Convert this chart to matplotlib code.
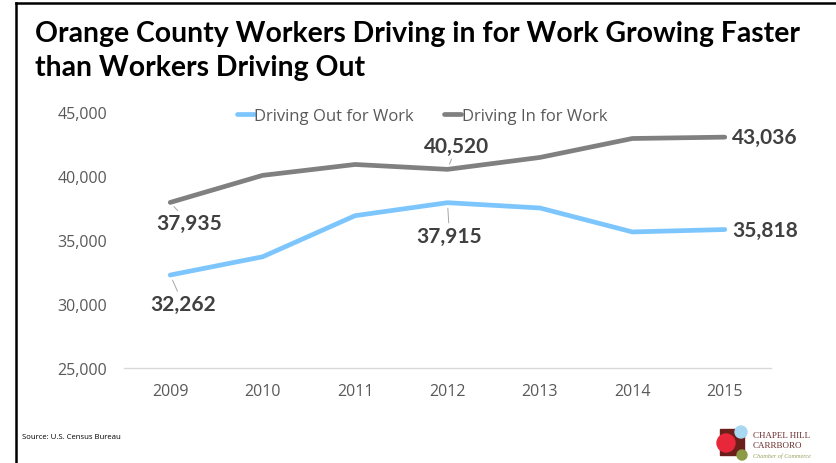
import matplotlib.pyplot as plt
from matplotlib import font_manager
from matplotlib.lines import Line2D
from matplotlib.patches import Rectangle, Circle
import numpy as np

years = ['2009', '2010', '2011', '2012', '2013', '2014', '2015']
driving_out = [32262, 33690, 36900, 37915, 37500, 35630, 35818]
driving_in = [37935, 40050, 40900, 40520, 41450, 42930, 43036]
yticks = [25000, 30000, 35000, 40000, 45000]

blue = '#7DC6FD'
grey = '#808080'
label_col = '#404040'
tick_col = '#595959'


def pick_font(names):
    for n in names:
        try:
            font_manager.findfont(font_manager.FontProperties(family=n), fallback_to_default=False)
            return n
        except ValueError:
            pass
    return 'DejaVu Sans'


title_font = pick_font(['Liberation Sans Narrow', 'Lato'])

W, H = 836, 464
fig = plt.figure(figsize=(W / 100, H / 100), dpi=100)
ax = fig.add_axes([124 / W, 1 - 369 / H, (771 - 124) / W, (369 - 113) / H])

x = np.arange(len(years))
ax.plot(x, driving_out, color=blue, lw=3.4, solid_capstyle='round', label='Driving Out for Work')
ax.plot(x, driving_in, color=grey, lw=3.4, solid_capstyle='round', label='Driving In for Work')

ax.set_xlim(-0.5, len(years) - 0.5)
ax.set_ylim(25000, 45000)
ax.set_xticks(x)
ax.set_xticklabels(years)
ax.set_yticks(yticks)
ax.set_yticklabels([f'{v:,}' for v in yticks])
for s in ['top', 'right', 'left']:
    ax.spines[s].set_visible(False)
ax.spines['bottom'].set_color('#D9D9D9')
ax.spines['bottom'].set_linewidth(1)
ax.tick_params(length=0, labelsize=11.5, labelcolor=tick_col)
ax.tick_params(axis='x', pad=11)
ax.tick_params(axis='y', pad=12)
for t in ax.get_xticklabels() + ax.get_yticklabels():
    t.set_fontfamily('Open Sans')

# data labels
lab = dict(fontsize=15, fontweight='bold', color=label_col, fontfamily='Lato')
lead = dict(arrowstyle='-', color='#A6A6A6', lw=0.7, shrinkA=0, shrinkB=4)
ax.annotate(f'{driving_in[0]:,}', (0, driving_in[0]), xytext=(19, -21), textcoords='offset pixels',
            ha='center', va='center', arrowprops=lead, **lab)
ax.annotate(f'{driving_out[0]:,}', (0, driving_out[0]), xytext=(13, -29), textcoords='offset pixels',
            ha='center', va='center', arrowprops=lead, **lab)
ax.annotate(f'{driving_in[3]:,}', (3, driving_in[3]), xytext=(9, 23), textcoords='offset pixels',
            ha='center', va='center', arrowprops=lead, **lab)
ax.annotate(f'{driving_out[3]:,}', (3, driving_out[3]), xytext=(2, -33), textcoords='offset pixels',
            ha='center', va='center', arrowprops=lead, **lab)
ax.annotate(f'{driving_in[6]:,}', (6, driving_in[6]), xytext=(7, 0), textcoords='offset pixels',
            ha='left', va='center', **lab)
ax.annotate(f'{driving_out[6]:,}', (6, driving_out[6]), xytext=(7, 0), textcoords='offset pixels',
            ha='left', va='center', **lab)

leg = fig.legend(loc='center', bbox_to_anchor=(422 / W, 1 - 117 / H), ncol=2, frameon=False,
                 handlelength=1.0, handletextpad=0.05, columnspacing=1.8,
                 prop={'family': 'Open Sans', 'size': 12})
for t in leg.get_texts():
    t.set_color(tick_col)

title = fig.text(35 / W, 1 - 51 / H,
                 'Orange County Workers Driving in for Work Growing Faster\nthan Workers Driving Out',
                 fontsize=18, fontweight='bold', fontfamily=title_font, color='black',
                 ha='left', va='center', linespacing=1.42)
# fit the title to the width it has in the reference
r = fig.canvas.get_renderer()
tw = title.get_window_extent(r).width
title.set_fontsize(18 * 765 / tw)

fig.text(22 / W, 1 - 438 / H, 'Source: U.S. Census Bureau', fontsize=5.6, fontfamily='Open Sans',
         color='black', ha='left', va='center')

# frame lines
fig.add_artist(Line2D([16 / W, 16 / W], [0, 1 - 4 / H], color='black', lw=1.8))
fig.add_artist(Line2D([16 / W, 1], [1 - 4 / H, 1 - 4 / H], color='black', lw=1.8))

# chamber logo
lax = fig.add_axes([715 / W, 1 - 464 / H, 40 / W, 40 / H])
lax.set_xlim(0, 40)
lax.set_ylim(0, 40)
lax.axis('off')
lax.add_patch(Rectangle((5, 8), 24, 26, color='#6B1F1A'))
lax.add_patch(Circle((26, 31), 6, color='#A9D8F2'))
lax.add_patch(Circle((11, 20), 9, color='#E8283A'))
lax.add_patch(Circle((27, 8), 5, color='#8C9A45'))
fig.text(753 / W, 1 - 436 / H, 'CHAPEL HILL', fontsize=6.5, fontfamily='Liberation Serif', color='#6B2A2A', va='center')
fig.text(753 / W, 1 - 446 / H, 'CARRBORO', fontsize=6.5, fontfamily='Liberation Serif', color='#6B2A2A', va='center')
fig.text(753 / W, 1 - 456 / H, 'Chamber of Commerce', fontsize=4.5, fontfamily='Liberation Serif',
         style='italic', color='#9AA060', va='center')

fig.savefig('out.png', dpi=100)
